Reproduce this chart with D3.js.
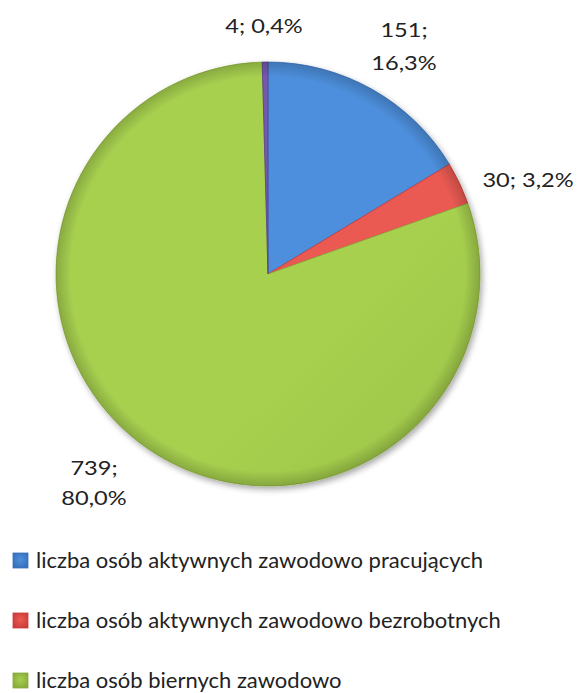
<!DOCTYPE html>
<html><head><meta charset="utf-8">
<script src="https://cdn.jsdelivr.net/npm/d3@7"></script>
<style>
html,body{margin:0;padding:0;background:#fff;}
svg{display:block;}
text{font-family:Lato,"Open Sans",sans-serif;fill:#222;}
</style></head>
<body>
<script>
const categories = ["liczba osób aktywnych zawodowo pracujących","liczba osób aktywnych zawodowo bezrobotnych","liczba osób biernych zawodowo","pozostali"];
const values = [151, 30, 739, 4];
const valueLabels = [["151;","16,3%"],["30; 3,2%"],["739;","80,0%"],["4; 0,4%"]];
const legendItems = [0, 1, 2];
const colorsLight = ["#4d8fdc","#ea5a52","#a7d04f","#7658ad"];
const colorsDark  = ["#3670bb","#cc3b38","#88ab3b","#5b3f8e"];

const W = 578, H = 693;
const cx = 268, cy = 274, R = 212;
const labelPos = [[404,[37,70]],[528,[187]],[94,[475,505]],[264,[33]]];

const svg = d3.select("body").append("svg").attr("width",W).attr("height",H);
const defs = svg.append("defs");

const filt = defs.append("filter").attr("id","shadow").attr("x","-20%").attr("y","-20%").attr("width","140%").attr("height","140%");
filt.append("feGaussianBlur").attr("in","SourceAlpha").attr("stdDeviation",3);
filt.append("feOffset").attr("dx",2).attr("dy",3).attr("result","ob");
filt.append("feComponentTransfer").append("feFuncA").attr("type","linear").attr("slope",0.35);
const mrg = filt.append("feMerge");
mrg.append("feMergeNode");
mrg.append("feMergeNode").attr("in","SourceGraphic");

values.forEach((v,i)=>{
  const g = defs.append("linearGradient").attr("id","g"+i)
    .attr("gradientUnits","userSpaceOnUse")
    .attr("x1",cx-R).attr("y1",cy-R).attr("x2",cx+R).attr("y2",cy+R);
  g.append("stop").attr("offset","0%").attr("stop-color",colorsLight[i]);
  g.append("stop").attr("offset","100%").attr("stop-color",colorsDark[i]);
  const lg = defs.append("radialGradient").attr("id","lg"+i).attr("cx","50%").attr("cy","45%").attr("r","60%");
  lg.append("stop").attr("offset","0%").attr("stop-color",colorsLight[i]);
  lg.append("stop").attr("offset","100%").attr("stop-color",colorsDark[i]);
});

// rim darkening
const rg = defs.append("radialGradient").attr("id","rim")
  .attr("gradientUnits","userSpaceOnUse").attr("cx",cx).attr("cy",cy).attr("r",R);
rg.append("stop").attr("offset","93%").attr("stop-color","#000").attr("stop-opacity",0);
rg.append("stop").attr("offset","100%").attr("stop-color","#000").attr("stop-opacity",0.18);

const pie = d3.pie().sort(null).value(d=>d);
const arcs = pie(values);
const arc = d3.arc().innerRadius(0).outerRadius(R);

const gp = svg.append("g").attr("transform",`translate(${cx},${cy})`).attr("filter","url(#shadow)");
gp.selectAll("path.slice").data(arcs).enter().append("path")
  .attr("class","slice")
  .attr("d",arc)
  .attr("fill",(d,i)=>`url(#g${i})`)
  .attr("stroke",(d,i)=>colorsDark[i])
  .attr("stroke-width",0.8);
svg.append("circle").attr("cx",cx).attr("cy",cy).attr("r",R).attr("fill","url(#rim)").attr("pointer-events","none");

// data labels
valueLabels.forEach((lines,i)=>{
  const [x, ys] = labelPos[i];
  lines.forEach((t,j)=>{
    svg.append("text").attr("transform",`translate(${x},${ys[j]}) scale(1.18,1)`)
      .attr("text-anchor","middle").attr("font-size",20).text(t);
  });
});

// legend
const lg = svg.append("g");
const rowY = [568, 628, 688];
legendItems.forEach((ci,k)=>{
  const y = rowY[k];
  lg.append("rect").attr("x",13).attr("y",y-15).attr("width",15).attr("height",15)
    .attr("fill",`url(#lg${ci})`).attr("stroke",colorsDark[ci]).attr("stroke-width",0.8);
  lg.append("text").attr("x",36).attr("y",y).attr("font-size",22).text(categories[ci]);
});
</script>
</body></html>
